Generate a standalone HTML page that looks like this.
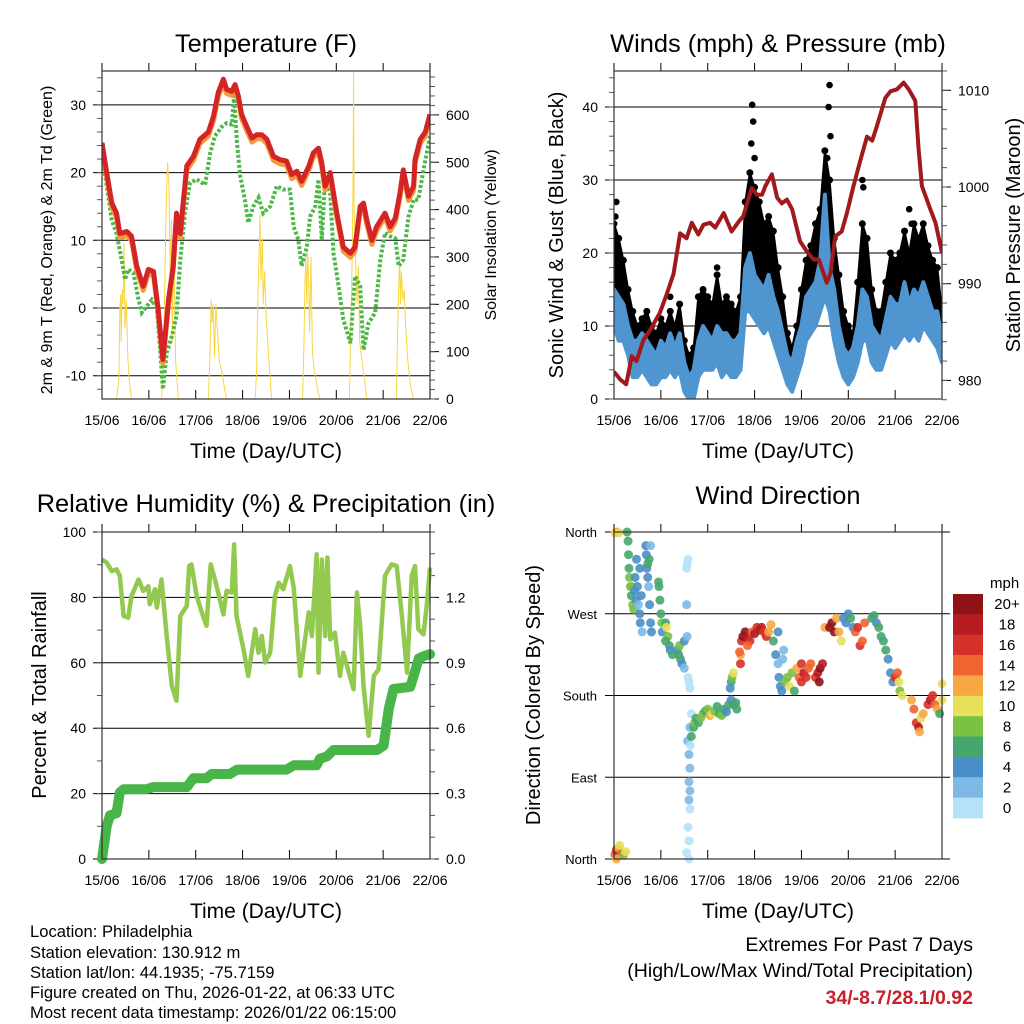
<!DOCTYPE html>
<html><head><meta charset="utf-8"><style>
html,body{margin:0;padding:0;background:#fff;}
svg{display:block;font-family:"Liberation Sans",sans-serif;}
</style></head><body>
<svg id="chart" width="1024" height="1024" viewBox="0 0 1024 1024" xmlns="http://www.w3.org/2000/svg">
<rect width="1024" height="1024" fill="#fff"/>
<g id="layer"></g>
<text x="30" y="937" font-size="16.6">Location: Philadelphia</text>
<text x="30" y="958" font-size="16.6">Station elevation: 130.912 m</text>
<text x="30" y="978" font-size="16.6">Station lat/lon: 44.1935; -75.7159</text>
<text x="30" y="998" font-size="16.6">Figure created on Thu, 2026-01-22, at 06:33 UTC</text>
<text x="30" y="1018" font-size="16.6">Most recent data timestamp: 2026/01/22 06:15:00</text>
<text x="973" y="951" font-size="19.5" text-anchor="end">Extremes For Past 7 Days</text>
<text x="973" y="977" font-size="19.5" text-anchor="end">(High/Low/Max Wind/Total Precipitation)</text>
<text x="973" y="1004" font-size="19.5" font-weight="bold" fill="#c8202a" text-anchor="end">34/-8.7/28.1/0.92</text>
</svg>
<script>
// ---------- DATA ----------
const dayLabels = ["15/06","16/06","17/06","18/06","19/06","20/06","21/06","22/06"];
const tempTicks = [-10,0,10,20,30];
const solarTicks = [0,100,200,300,400,500,600];
const windTicks = [0,10,20,30,40];
const presTicks = [980,990,1000,1010];
const rhTicks = [0,20,40,60,80,100];
const precipTicks = ["0.0","0.3","0.6","0.9","1.2"];
const dirTickLabels = ["North","East","South","West","North"];
const speedBins = ["0","2","4","6","8","10","12","14","16","18","20+"];

const tempT = [0,.10,.21,.31,.38,.53,.63,.74,.88,.99,1.10,1.20,1.30,1.42,1.52,1.59,1.67,1.74,1.81,1.95,2.09,2.27,2.38,2.48,2.59,2.66,2.77,2.84,2.91,2.98,3.09,3.20,3.30,3.41,3.52,3.66,3.80,3.94,4.05,4.16,4.26,4.41,4.51,4.62,4.69,4.76,4.87,5.01,5.15,5.30,5.40,5.51,5.58,5.65,5.76,5.86,6.04,6.15,6.26,6.36,6.43,6.54,6.65,6.68,6.79,6.90,7.0];
const temp2m = [24.4,20,15.5,14,11,11.3,10.6,6.2,3.2,5.7,5.4,-0.2,-7.6,1.2,6.2,14,11,16,21,22.4,24.9,26,28.3,31.8,33.8,32.3,32,33,31.3,28.6,26.8,25.1,25.6,25.6,24.9,22.4,21.9,21.7,19.7,20.2,18.7,20.9,22.9,23.6,21.4,18,20,14,9,8.1,9,15,15.5,13,10,12,14,12,13.3,17,20.4,16.5,18,21.9,24.9,26,28.6];
const temp9m = [24,19.4,14.9,13.4,10.4,10.7,10,5.6,2.6,5.1,4.8,-0.8,-8.2,0.6,5.6,13.4,10.4,15.4,20.4,21.8,24.3,25.4,27.7,31.2,33.2,31.7,31.4,32.4,30.7,28,26.2,24.5,25,25,24.3,21.8,21.3,21.1,19.1,19.6,18.1,20.3,22.3,23,20.8,17.4,19.4,13.4,8.4,7.5,8.4,14.4,14.9,12.4,9.4,11.4,13.4,11.4,12.7,16.4,19.8,15.9,17.4,21.3,24.3,25.4,28];
const dewT = [0,.10,.21,.31,.42,.49,.56,.67,.78,.85,.95,1.06,1.17,1.24,1.30,1.38,1.49,1.59,1.67,1.77,1.88,2.02,2.20,2.31,2.41,2.56,2.66,2.77,2.82,2.88,2.95,3.05,3.12,3.23,3.34,3.44,3.59,3.73,3.87,4.01,4.09,4.19,4.26,4.37,4.44,4.55,4.62,4.69,4.76,4.87,4.94,5.05,5.15,5.30,5.40,5.51,5.58,5.69,5.83,5.94,6.04,6.15,6.26,6.33,6.43,6.54,6.65,6.75,6.86,7.0];
const dew2m = [22.9,18,13,11,7.1,4.2,5.7,5.2,1.2,-0.7,0.2,1.2,0,-6.2,-12,-6.6,-4.2,-1.2,7.1,14,18.5,19,18.2,22.9,25.4,26.8,27.3,27.1,31.3,24.4,19.5,16,12.6,15,16.3,14,15,18,17.5,17.5,12,10.1,6.2,9,13.5,15,19,10,19,17,8.1,3.2,-1.7,-5.2,4.7,3.2,-6.2,-2.2,-0.7,7.1,11.1,10.6,10.3,6.2,7.1,13.5,16,16,20.4,25.4];
const solarT = [0,0.31,0.36,0.38,0.40,0.41,0.43,0.45,0.47,0.49,0.52,0.55,0.58,0.63,1.27,1.31,1.34,1.37,1.40,1.43,1.46,1.48,1.50,1.53,1.57,1.63,2.27,2.30,2.33,2.35,2.37,2.40,2.43,2.46,2.50,2.55,2.62,2.66,3.27,3.30,3.33,3.35,3.37,3.39,3.42,3.44,3.47,3.50,3.55,3.62,4.28,4.31,4.33,4.35,4.37,4.39,4.41,4.43,4.46,4.49,4.53,4.60,4.65,5.28,5.31,5.34,5.36,5.37,5.38,5.41,5.44,5.47,5.50,5.55,5.65,6.28,6.31,6.33,6.35,6.37,6.39,6.42,6.45,6.48,6.52,6.58,6.65,7.0];
const solarV = [0,0,40,190,220,120,230,200,330,150,210,90,40,0,0,60,250,410,500,450,230,380,120,330,80,0,0,80,210,160,200,90,200,150,80,60,20,0,0,60,230,300,390,250,340,200,270,180,100,0,0,120,240,300,200,310,250,140,300,100,60,20,0,0,150,300,490,690,400,300,200,280,120,80,0,0,150,230,300,200,270,210,230,150,90,30,0,0];

const presT = [0,.13,.26,.38,.48,.63,.77,.98,1.13,1.27,1.41,1.55,1.66,1.80,1.91,2.05,2.16,2.34,2.51,2.66,2.76,2.94,3.05,3.16,3.23,3.37,3.48,3.58,3.69,3.80,3.97,4.12,4.26,4.37,4.54,4.62,4.72,4.86,4.97,5.11,5.26,5.40,5.51,5.61,5.79,5.90,6.04,6.18,6.29,6.43,6.50,6.57,6.75,6.86,7.0];
const presV = [980.9,980.1,979.6,982.5,982,984.2,985.2,987,989,991,995.2,994.7,996.3,995.1,996.1,996.3,995.8,997.3,995.4,996.4,997,999.9,999.2,999.2,1000.1,1001.3,998.9,998.3,998.7,997.7,994.4,993.3,992.5,992.5,990.1,991.1,994.9,995.4,997.3,1000.1,1002.8,1005.2,1004.8,1006.3,1009.2,1009.9,1010.1,1010.8,1010.1,1008.9,1003.9,1000.1,997.7,996.3,993.2];
const windT = [0,0.1,0.2,0.3,0.4,0.5,0.6,0.7,0.8,0.9,1.0,1.1,1.2,1.3,1.4,1.5,1.6,1.7,1.8,1.9,2.0,2.1,2.2,2.3,2.4,2.5,2.6,2.7,2.8,2.9,3.0,3.1,3.2,3.3,3.4,3.5,3.6,3.7,3.8,3.9,4.0,4.1,4.2,4.3,4.4,4.5,4.6,4.7,4.8,4.9,5.0,5.1,5.2,5.3,5.4,5.5,5.6,5.7,5.8,5.9,6.0,6.1,6.2,6.3,6.4,6.5,6.6,6.7,6.8,6.9,7.0];
const windLo = [10,8,8,6,3,3,4,3,2,2,3,3,4,3,4,1,0,0,3,4,4,4,5,3,4,3,3,4,12,12,11,10,9,10,8,6,4,2,1,3,5,8,9,10,12,14,12,8,5,3,2,3,5,8,8,5,4,4,6,8,7,8,9,8,9,8,10,9,8,7,5];
const windHi = [15,14,13,10,8,8,9,8,7,6,8,7,9,7,9,5,3,4,8,10,9,8,10,9,9,8,8,9,18,20,17,16,15,17,14,12,9,6,5,8,10,14,15,16,19,28,18,15,10,7,6,7,10,15,14,10,9,8,11,14,13,13,16,13,15,14,16,14,12,12,8];
const gustV = [24,22,19,15,12,10,11,12,10,9,11,10,12,10,13,8,6,7,14,15,14,13,17,13,14,13,12,14,27,31,29,27,24,25,23,18,14,9,7,10,15,19,21,24,26,34,30,22,17,12,10,9,16,24,22,15,12,12,16,20,19,20,23,20,24,22,24,21,19,18,12];
const gustPeakT = [0.05,0.03,2.95,2.97,2.93,3.0,4.58,4.6,4.62,4.55,5.3,5.32,6.3,6.35,1.2,2.2];
const gustPeakV = [27,25,40.3,38,35,33,40,43,36,33,30,29,26,24,14,18];

const rhT = [0,.10,.21,.31,.38,.46,.56,.63,.78,.88,.99,1.02,1.13,1.17,1.27,1.38,1.49,1.59,1.67,1.81,1.86,1.91,2.02,2.13,2.23,2.32,2.41,2.48,2.59,2.66,2.77,2.82,2.87,3.02,3.12,3.27,3.34,3.41,3.48,3.59,3.69,3.77,3.87,4.01,4.09,4.23,4.41,4.48,4.58,4.62,4.69,4.76,4.81,4.87,4.97,5.08,5.15,5.37,5.44,5.51,5.58,5.69,5.80,5.90,6.04,6.18,6.29,6.40,6.51,6.61,6.68,6.75,6.86,6.93,7.0];
const rhV = [91.6,90.6,88,88.6,86.6,74.3,73.8,80.4,85.5,82,83.4,77.9,82.5,76.9,85.5,68.2,53,48.4,74.3,77.4,89.6,90.1,80.4,75.4,71.3,90.1,85.5,81.5,74.8,82,81.5,96.2,74.3,64.2,56,70.3,63.1,68.2,60.1,63.1,80.4,84.5,82.5,89.6,83,56,75.4,68.2,93.2,57,91.6,68.2,92.2,67.2,69.2,56,63.1,51.9,81.5,71.3,53,37.7,56,58,86.6,90.1,89.6,74.3,57,86.6,89.6,70.3,68.7,77.4,89.1];
const prT = [0,.10,.17,.31,.38,.46,.95,1.10,1.81,1.95,2.23,2.34,2.73,2.88,3.94,4.09,4.58,4.65,4.80,4.94,5.87,6.01,6.12,6.22,6.58,6.65,6.76,6.86,7.0];
const prV = [0,.15,.2,.21,.305,.32,.32,.33,.33,.37,.37,.39,.39,.41,.41,.43,.43,.46,.47,.5,.5,.52,.69,.78,.79,.84,.92,.93,.94];

const dirT = [0.02,0.05,0.08,0.1,0.15,0.2,0.25,0.05,0.12,0.02,0.06,0.1,0.28,
0.3,0.31,0.32,0.33,0.35,0.37,0.4,0.38,0.42,0.44,0.45,0.47,0.5,0.52,0.55,0.56,0.58,0.6,0.55,0.48,
0.68,0.69,0.7,0.72,0.74,0.76,0.78,0.8,0.75,0.72,0.78,0.95,0.96,0.98,1.0,1.02,1.03,1.1,1.12,1.15,1.18,1.2,1.25,1.1,1.35,1.38,1.4,1.42,1.45,1.5,1.5,
1.55,1.56,1.58,1.55,1.56,1.6,1.62,1.58,1.57,1.6,1.62,1.6,1.62,1.6,1.62,1.58,1.6,1.55,1.6,1.62,1.65,1.63,
1.65,1.7,1.72,1.75,1.8,1.85,1.9,1.95,2.0,2.05,2.1,2.15,2.2,2.25,2.3,2.35,2.4,2.45,2.5,2.55,2.6,2.62,2.5,2.52,2.48,2.55,
2.7,2.72,2.75,2.8,2.85,2.9,2.95,3.0,3.05,3.1,3.15,3.2,3.25,3.3,2.7,2.68,3.35,2.85,3.4,3.45,
3.5,3.52,3.55,3.58,3.6,3.62,3.5,3.65,3.7,3.75,3.8,3.85,3.9,3.95,4.0,4.05,4.1,4.15,4.2,4.0,4.3,4.35,4.4,4.45,4.38,4.5,
4.6,4.65,4.7,4.75,4.8,4.85,4.9,4.95,5.0,5.05,5.1,5.15,5.2,5.25,5.3,5.35,5.5,5.55,5.6,5.65,5.7,5.75,5.8,5.85,5.9,5.95,6.0,6.0,6.05,6.08,6.1,6.15,6.35,6.4,6.45,6.5,6.52,6.55,6.6,6.7,6.75,6.8,6.85,6.9,6.95,7.0,7.0];
const dirV = [5,10,3,12,6,4,8,0,15,359,360,359,360,
350,335,320,310,300,290,280,300,275,295,310,285,300,280,270,260,290,250,320,330,
345,335,320,310,300,280,260,250,330,325,345,305,300,285,270,260,250,260,255,245,235,230,225,240,230,225,235,220,215,240,210,
320,325,330,280,245,195,188,200,130,115,100,85,75,65,55,35,20,7,0,145,160,125,
135,145,150,155,150,155,160,163,165,158,160,163,168,160,158,165,162,170,175,170,172,165,195,200,188,205,
225,240,245,250,243,240,250,248,255,252,255,250,245,250,215,228,258,235,240,225,
215,200,190,185,220,230,250,195,200,190,205,185,210,200,195,205,200,210,215,215,200,205,210,215,195,255,
255,260,250,265,250,240,265,260,270,265,255,250,255,235,240,260,265,268,260,255,245,240,230,220,205,195,200,200,205,195,185,180,175,165,150,145,140,155,160,170,175,180,170,165,160,175,193];
const dirS = [14,16,18,12,14,8,10,12,11,10,12,11,7,
7,7,6,8,9,7,9,8,8,5,4,4,5,3,4,4,5,3,5,5,
4,4,5,4,3,4,4,5,6,7,3,6,7,6,6,8,5,7,10,8,6,5,6,6,4,7,8,6,4,5,3,
1,0,0,3,2,1,0,0,2,2,3,2,3,2,1,1,1,1,0,3,1,1,
6,7,8,6,7,8,8,7,9,12,11,8,7,6,8,6,4,7,5,6,6,7,6,9,4,10,
12,16,20,20,18,16,14,18,16,18,18,17,16,12,16,14,12,14,6,4,
3,4,5,4,2,2,5,8,9,10,8,6,12,14,16,18,16,14,15,16,16,18,20,18,20,12,
20,20,20,12,12,10,5,4,4,6,4,14,16,16,15,14,6,6,5,7,6,6,6,4,4,4,14,16,14,10,8,10,12,14,16,18,12,10,12,16,18,16,14,12,6,10,10];

const binColors = ["#b6e2f7","#7db9e4","#4a8fc7","#47a66d","#7bc143","#e6e05a","#f6a844","#ef6431","#d7302a","#b71c22","#8f1216"];

// ---------- HELPERS ----------
const NS = "http://www.w3.org/2000/svg";
const layer = document.getElementById('layer');
function mk(tag, attrs, parent, text){
  const e = document.createElementNS(NS, tag);
  for (const k in attrs) e.setAttribute(k, attrs[k]);
  if (text !== undefined) e.textContent = text;
  (parent || layer).appendChild(e);
  return e;
}
function pathFrom(ts, vs, fx, fy){
  let d = "";
  const n = Math.min(ts.length, vs.length);
  for (let i=0;i<n;i++) d += (i?"L":"M") + fx(ts[i]).toFixed(1) + "," + fy(vs[i]).toFixed(1);
  return d;
}

function makeX(x0){ return d => x0 + d*46.86; }
const xA = makeX(102), xB = makeX(614);
const yTemp = v => 308 - v*6.77;
const ySolar = v => 399 - v*0.4735;
const yWind = v => 399 - v*7.3;
const yPres = v => 187 - (v-1000)*9.67;
const yRH = v => 859 - v*3.27;
const yPr = v => 859 - v*218;
const yDir = v => 859 - v*0.9083;

function panelFrame(g, x0, x1, y0, y1, xs, name){
  for (let i=0;i<dayLabels.length;i++){
    const x = xs(i);
    const t = mk('line',{x1:x,x2:x,y1:y0-8,y2:y0,stroke:'#000','stroke-width':1},g);
    
    
    const b = mk('line',{x1:x,x2:x,y1:y1-9,y2:y1,stroke:'#000','stroke-width':1},g);
    
    
    const l = mk('text',{x:x,y:y1+26,'font-size':14,'text-anchor':'middle'},g,dayLabels[i]);
    
    
  }
  const r = mk('rect',{x:x0,y:y0,width:x1-x0,height:y1-y0,fill:'none',stroke:'#333','stroke-width':1.2},g);
  
  
  const xt = mk('text',{x:(x0+x1)/2,y:y1+59,'font-size':21,'text-anchor':'middle'},g,'Time (Day/UTC)');
  
  
}
function leftAxis(g, x0, x1, ticks, labels, fy, minorStep, lo, hi, name){
  for (let i=0;i<ticks.length;i++){
    const y = fy(ticks[i]);
    const gl = mk('line',{x1:x0-9,x2:x1,y1:y,y2:y,stroke:'#000','stroke-width':1},g);
    
    
    const t = mk('text',{x:x0-16,y:y+5,'font-size':14,'text-anchor':'end'},g,labels[i]);
    
    
  }
  if (minorStep){
    for (let v=lo; v<=hi+1e-9; v+=minorStep){
      const y = fy(v);
      const m = mk('line',{x1:x0-5,x2:x0,y1:y,y2:y,stroke:'#555','stroke-width':1},g);
      
      
    }
  }
}
function rightAxis(g, x1, ticks, labels, fy, minorStep, lo, hi, name){
  for (let i=0;i<ticks.length;i++){
    const y = fy(ticks[i]);
    const t = mk('line',{x1:x1,x2:x1+9,y1:y,y2:y,stroke:'#000','stroke-width':1},g);
    
    
    const l = mk('text',{x:x1+16,y:y+5,'font-size':14},g,labels[i]);
    
    
  }
  for (let v=lo; v<=hi+1e-9; v+=minorStep){
    const y = fy(v);
    const m = mk('line',{x1:x1,x2:x1+5,y1:y,y2:y,stroke:'#555','stroke-width':1},g);
    
    
  }
}
function title(g, x, y, txt, name){
  const t = mk('text',{x:x,y:y,'font-size':25.4,'text-anchor':'middle'},g,txt);
  
  
}
function vtitle(g, x, y, txt, size, name){
  const t = mk('text',{x:x,y:y,'font-size':size,'text-anchor':'middle',transform:'rotate(-90 '+x+' '+y+')'},g,txt);
  
  
}

// ---------- PANEL 1 ----------
const g1 = mk('g',{});


title(g1, 266, 52, 'Temperature (F)', 'temperature-title');
leftAxis(g1, 102, 430, tempTicks, tempTicks.map(String), yTemp, 2, -12, 34, 'temperature');
rightAxis(g1, 430, solarTicks, solarTicks.map(String), ySolar, 20, 0, 680, 'solar');
vtitle(g1, 52, 240, '2m & 9m T (Red, Orange) & 2m Td (Green)', 16, 'temperature-y-axis-title');
vtitle(g1, 496, 235, 'Solar Insolation (Yellow)', 16, 'solar-y-axis-title');
const cp1 = mk('clipPath',{id:'c1'},g1); mk('rect',{x:102,y:71,width:328,height:328},cp1);
const s1 = mk('g',{'clip-path':'url(#c1)'},g1);
const sol = mk('path',{d:pathFrom(solarT, solarV, xA, ySolar),fill:'none',stroke:'#f8d640','stroke-width':1},s1);


const dew = mk('path',{d:pathFrom(dewT, dew2m, xA, yTemp),fill:'none',stroke:'#4cb848','stroke-width':4,'stroke-dasharray':'3,2'},s1);


const t9 = mk('path',{d:pathFrom(tempT, temp9m, xA, yTemp),fill:'none',stroke:'#f39a3c','stroke-width':5,'stroke-linejoin':'round'},s1);


const t2 = mk('path',{d:pathFrom(tempT, temp2m, xA, yTemp),fill:'none',stroke:'#d42426','stroke-width':5,'stroke-linejoin':'round'},s1);


panelFrame(g1, 102, 430, 71, 399, xA, 'temperature');

// ---------- PANEL 2 ----------
const g2 = mk('g',{});


title(g2, 778, 52, 'Winds (mph) & Pressure (mb)', 'winds-title');
leftAxis(g2, 614, 942, windTicks, windTicks.map(String), yWind, 2, 0, 44, 'wind');
rightAxis(g2, 942, presTicks, presTicks.map(String), yPres, 2, 978, 1012, 'pressure');
vtitle(g2, 563, 235, 'Sonic Wind & Gust (Blue, Black)', 20, 'wind-y-axis-title');
vtitle(g2, 1020, 235, 'Station Pressure (Maroon)', 20, 'pressure-y-axis-title');
const cp2 = mk('clipPath',{id:'c2'},g2); mk('rect',{x:614,y:71,width:328,height:328},cp2);
const s2 = mk('g',{'clip-path':'url(#c2)'},g2);
let gb = "";
for (let i=0;i<windT.length;i++) gb += (i?"L":"M")+xB(windT[i]).toFixed(1)+","+yWind(gustV[i]).toFixed(1);
for (let i=windT.length-1;i>=0;i--) gb += "L"+xB(windT[i]).toFixed(1)+","+yWind(windHi[i]).toFixed(1);
const gbp = mk('path',{d:gb+"Z",fill:'#000',stroke:'#000','stroke-width':2,'stroke-linejoin':'round'},s2);


for (let i=0;i<windT.length;i++){
  const c = mk('circle',{cx:xB(windT[i]),cy:yWind(gustV[i]),r:3.5,fill:'#000'},s2);
  
  
}
for (let i=0;i<gustPeakT.length;i++){
  const c = mk('circle',{cx:xB(gustPeakT[i]),cy:yWind(gustPeakV[i]),r:3.3,fill:'#000'},s2);
  
  
}
let wb = "";
for (let i=0;i<windT.length;i++) wb += (i?"L":"M")+xB(windT[i]).toFixed(1)+","+yWind(windHi[i]).toFixed(1);
for (let i=windT.length-1;i>=0;i--) wb += "L"+xB(windT[i]).toFixed(1)+","+yWind(windLo[i]).toFixed(1);
const wbp = mk('path',{d:wb+"Z",fill:'#4f95d0',stroke:'#4f95d0','stroke-width':4,'stroke-linejoin':'round'},s2);


const pr = mk('path',{d:pathFrom(presT, presV, xB, yPres),fill:'none',stroke:'#a01a1c','stroke-width':4,'stroke-linejoin':'round'},s2);


panelFrame(g2, 614, 942, 71, 399, xB, 'winds');

// ---------- PANEL 3 ----------
const g3 = mk('g',{});


title(g3, 266, 512, 'Relative Humidity (%) & Precipitation (in)', 'humidity-title');
leftAxis(g3, 102, 430, rhTicks, rhTicks.map(String), yRH, 10, 0, 100, 'humidity');
const precipVals = precipTicks.map(Number);
rightAxis(g3, 430, precipVals, precipTicks, yPr, 0.1, 0, 1.5, 'precip');
vtitle(g3, 46, 695, 'Percent & Total Rainfall', 20, 'humidity-y-axis-title');
const cp3 = mk('clipPath',{id:'c3'},g3); mk('rect',{x:92,y:532,width:348,height:335},cp3);
const s3 = mk('g',{'clip-path':'url(#c3)'},g3);
const rh = mk('path',{d:pathFrom(rhT, rhV, xA, yRH),fill:'none',stroke:'#92c94e','stroke-width':4.5,'stroke-linejoin':'round'},s3);


const pp = mk('path',{d:pathFrom(prT, prV, xA, yPr),fill:'none',stroke:'#48b548','stroke-width':10,'stroke-linejoin':'round','stroke-linecap':'round'},s3);


panelFrame(g3, 102, 430, 532, 859, xA, 'humidity');

// ---------- PANEL 4 ----------
const g4 = mk('g',{});


title(g4, 778, 504, 'Wind Direction', 'wind-direction-title');
const dirTicks = [0,90,180,270,360];
for (let i=0;i<dirTicks.length;i++){
  const y = yDir(dirTicks[i]);
  const gl = mk('line',{x1:605,x2:950,y1:y,y2:y,stroke:'#000','stroke-width':1},g4);
  
  
  const t = mk('text',{x:597,y:y+5,'font-size':13,'text-anchor':'end'},g4,dirTickLabels[i]);
  
  
}
vtitle(g4, 540, 695, 'Direction (Colored By Speed)', 20, 'direction-y-axis-title');
const cp4 = mk('clipPath',{id:'c4'},g4); mk('rect',{x:608,y:526,width:340,height:338},cp4);
const s4 = mk('g',{'clip-path':'url(#c4)'},g4);
const nDir = Math.min(dirT.length, dirV.length, dirS.length);
for (let i=0;i<nDir;i++){
  const bin = Math.max(0, Math.min(10, Math.floor(dirS[i]/2)));
  const c = mk('circle',{cx:xB(dirT[i]),cy:yDir(dirV[i]),r:4.5,fill:binColors[bin],'fill-opacity':0.9},s4);
  
  
}
panelFrame(g4, 614, 942, 532, 859, xB, 'direction');
const mph = mk('text',{x:990,y:588,'font-size':15},g4,'mph');


const bh = 224/11;
for (let i=0;i<speedBins.length;i++){
  const idx = speedBins.length-1-i;
  const y = 594 + i*bh;
  const r = mk('rect',{x:953,y:y,width:30,height:bh+0.3,fill:binColors[idx]},g4);
  
  
  const t = mk('text',{x:1007,y:y+bh/2+5,'font-size':15,'text-anchor':'middle'},g4,speedBins[idx]);
  
  
}
</script>
</body></html>
